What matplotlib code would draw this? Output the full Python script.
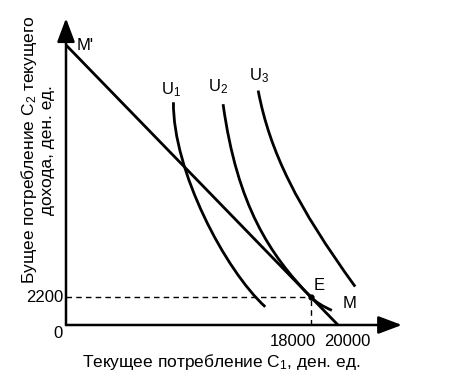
import matplotlib
matplotlib.use("Agg")
import matplotlib.pyplot as plt
from matplotlib.path import Path
from matplotlib.patches import PathPatch

plt.rcParams['font.family'] = ['Liberation Sans', 'DejaVu Sans']
plt.rcParams['mathtext.fontset'] = 'custom'
plt.rcParams['mathtext.rm'] = 'Liberation Sans'
plt.rcParams['mathtext.it'] = 'Liberation Sans:italic'
plt.rcParams['mathtext.default'] = 'rm'

# ---- data ----
budget_x = [0, 20000]
budget_y = [22000, 0]
E_point = (18000, 2200)

# indifference curves: Bezier nodes (start, control, control, end[, control, end])
u1_x = [7900, 7850, 11700, 14650]
u1_y = [17500, 12150, 4300, 1430]

u2_x = [11550, 12590, 15000, 18000, 18527, 19550]
u2_y = [17350, 9350, 5500, 2200, 1620, 1150]

u3_x = [14130, 15000, 17000, 21260]
u3_y = [18420, 13550, 9320, 3020]

curve_labels = ["U$_1$", "U$_2$", "U$_3$"]
curve_label_pos = [(7750, 18500), (11150, 18700), (14200, 19600)]

x_ticks = [18000, 20000]
y_ticks = [2200]
x_label = "Текущее потребление C$_1$, ден. ед."
y_label = "Бущее потребление C$_2$ текущего\nдохода, ден. ед."

# ---- layout ----
W, H = 459, 389
sx, sy = 272 / 20000, 280 / 22000
x0px, y0px = 66, 325
xlim = (-2000, 26000)
ylim = (-2000, 25000)

fig = plt.figure(figsize=(W / 100, H / 100), dpi=100)
left = (x0px + xlim[0] * sx) / W
width = (xlim[1] - xlim[0]) * sx / W
bottom = (H - (y0px - ylim[0] * sy)) / H
height = (ylim[1] - ylim[0]) * sy / H
ax = fig.add_axes([left, bottom, width, height])
ax.set_xlim(*xlim)
ax.set_ylim(*ylim)
ax.axis('off')

fs = 12
fs_title = 12.5

# axes with arrows
arrow_kw = dict(arrowstyle='-|>,head_length=0.8,head_width=0.3',
                lw=1.8, color='k', mutation_scale=18, shrinkA=0, shrinkB=0)
ax.annotate('', xy=(0, 24100), xytext=(0, 0), arrowprops=arrow_kw)
ax.annotate('', xy=(24700, 0), xytext=(0, 0), arrowprops=arrow_kw)

# budget line
ax.plot(budget_x, budget_y, color='k', lw=2.0, solid_capstyle='butt')


def bezier(xs, ys):
    verts = list(zip(xs, ys))
    codes = [Path.MOVETO] + [Path.CURVE4] * 3
    if len(verts) == 6:
        codes += [Path.CURVE3] * 2
    return PathPatch(Path(verts, codes), fill=False, edgecolor='k', lw=2.0,
                     capstyle='butt')


for cx, cy in [(u1_x, u1_y), (u2_x, u2_y), (u3_x, u3_y)]:
    ax.add_patch(bezier(cx, cy))

for lab, (lx, ly) in zip(curve_labels, curve_label_pos):
    ax.text(lx, ly, lab, fontsize=fs, ha='center', va='center')

# dashed guides
ax.plot([0, E_point[0]], [E_point[1], E_point[1]], color='k', lw=1.0, ls=(0, (4, 3)))
ax.plot([E_point[0], E_point[0]], [0, E_point[1]], color='k', lw=1.0, ls=(0, (4, 3)))
ax.plot([E_point[0]], [E_point[1]], 'o', color='k', ms=3.5)

# point labels
ax.text(800, budget_y[0], "M'", fontsize=fs, ha='left', va='center')
ax.annotate("E", xy=E_point, xytext=(8, 12), textcoords='offset pixels',
            fontsize=fs, ha='center', va='center')
ax.annotate("M", xy=(budget_x[1], 0), xytext=(12, 21), textcoords='offset pixels',
            fontsize=fs, ha='center', va='center')

# tick labels
ax.annotate("0", xy=(0, 0), xytext=(-8, -9), textcoords='offset pixels',
            fontsize=fs, ha='center', va='center')
for yt in y_ticks:
    ax.annotate(f"{yt}", xy=(0, yt), xytext=(-3, -1), textcoords='offset pixels',
                fontsize=fs, ha='right', va='center')
xt_off = [(-18, -16), (9, -16)]
for xt, off in zip(x_ticks, xt_off):
    ax.annotate(f"{xt}", xy=(xt, 0), xytext=off, textcoords='offset pixels',
                fontsize=fs, ha='center', va='center')

# axis titles
fig.text(221 / W, 1 - 362 / H, x_label, fontsize=fs_title, ha='center', va='center')
fig.text(37 / W, 1 - 150 / H, y_label, fontsize=fs_title, ha='center', va='center',
         rotation=90, multialignment='center', linespacing=1.15)

fig.savefig("out.png", dpi=100)
